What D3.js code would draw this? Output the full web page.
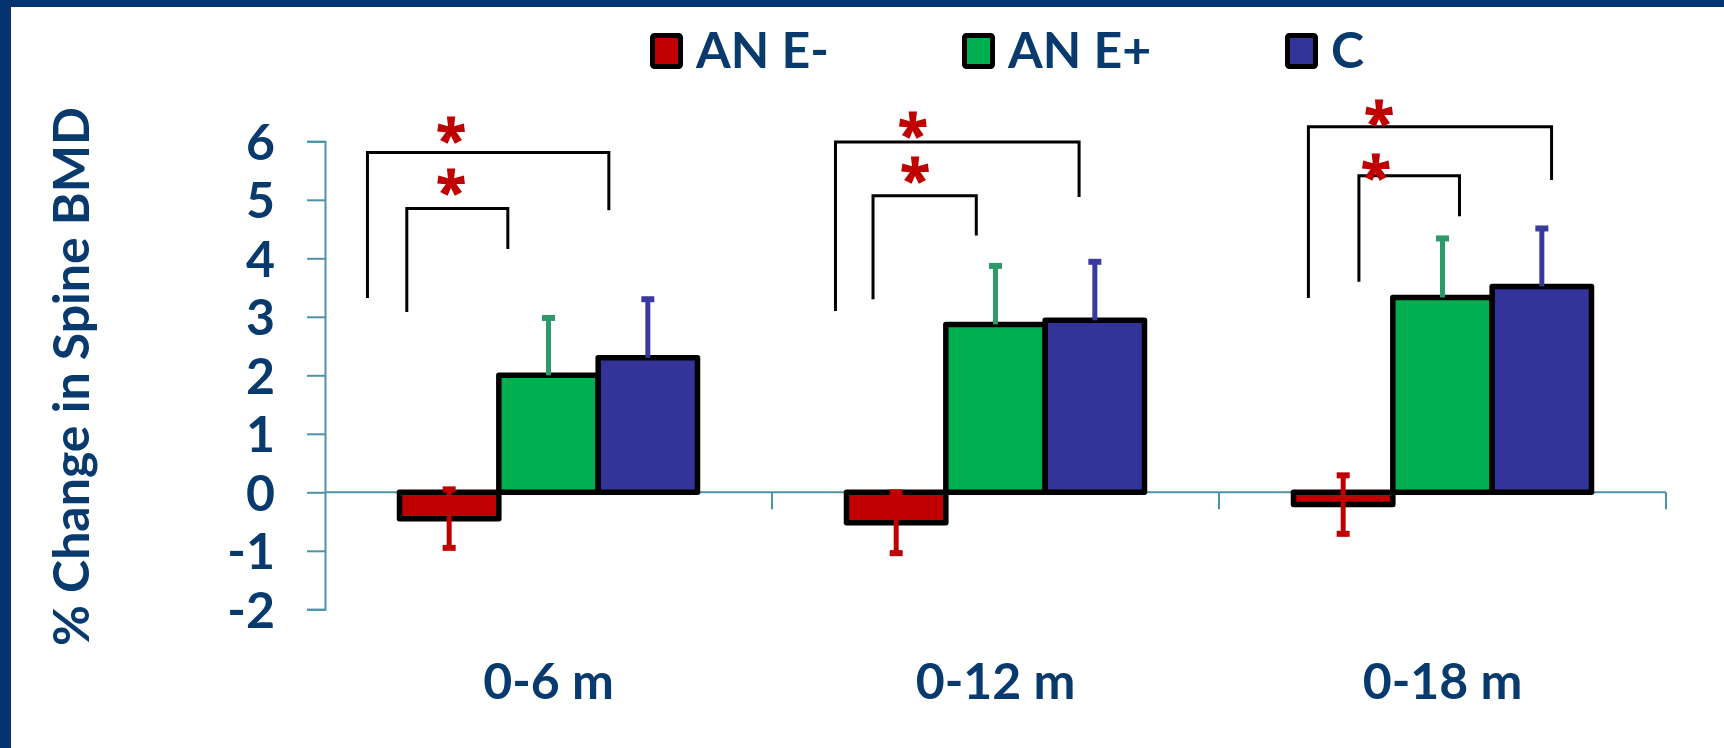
<!DOCTYPE html>
<html>
<head>
<meta charset="utf-8">
<script src="https://cdn.jsdelivr.net/npm/d3@7"></script>
<style>
  html, body { margin: 0; padding: 0; background: #ffffff; }
  svg { display: block; }
</style>
</head>
<body>
<script>
// ---- data ----
const categories = ["0-6 m", "0-12 m", "0-18 m"];
const seriesNames = ["AN E-", "AN E+", "C"];
const valuesANEminus = [-0.45, -0.52, -0.21];
const valuesANEplus = [2.00, 2.87, 3.33];
const valuesC = [2.30, 2.94, 3.52];
const errANEminus = [0.50, 0.52, 0.50];
const errANEplus = [0.98, 1.00, 1.01];
const errC = [1.00, 1.00, 0.99];
const errBothWays = [true, false, false];
const yTicks = [-2, -1, 0, 1, 2, 3, 4, 5, 6];
// significance brackets: category, left/right as fraction of category band,
// top value, bottom of left leg, bottom of right leg
const bracketCat   = ["0-6 m", "0-6 m", "0-12 m", "0-12 m", "0-18 m", "0-18 m"];
const bracketLeft  = [0.095, 0.183, 0.142, 0.226, 0.200, 0.313];
const bracketRight = [0.635, 0.409, 0.687, 0.457, 0.744, 0.538];
const bracketTop   = [5.81, 4.85, 5.99, 5.07, 6.25, 5.41];
const bracketLeftBottom  = [3.32, 3.08, 3.10, 3.30, 3.32, 3.60];
const bracketRightBottom = [4.82, 4.16, 5.05, 4.39, 5.34, 4.72];
// significance stars: position as band fraction and value of its centre
const starX = [0.282, 0.282, 0.315, 0.320, 0.358, 0.351];
const starY = [6.19, 5.30, 6.28, 5.51, 6.48, 5.56];

const fillColors = ["#C00000", "#00B050", "#333399"];
const errColors = ["#C00000", "#2E9A6A", "#3A3A9E"];
const textColor = "#083A6E";
const axisColor = "#4E92A8";

const W = 1724, H = 748;
const svg = d3.select("body").append("svg").attr("width", W).attr("height", H);

// frame
svg.append("rect").attr("x", 0).attr("y", 0).attr("width", W).attr("height", 7).attr("fill", "#04346F");
svg.append("rect").attr("x", 0).attr("y", 0).attr("width", 11).attr("height", H).attr("fill", "#04346F");

const FONT = "Lato, 'Open Sans', sans-serif";

const y = d3.scaleLinear().domain([-2, 6]).range([609.3, 141.3]);
const x0 = d3.scaleBand().domain(categories).range([325, 1666]).padding(0);
const bw = x0.bandwidth();
const gw = 298;
const x1 = d3.scaleBand().domain(seriesNames).range([(bw - gw) / 2, (bw + gw) / 2]).padding(0);

const values = [valuesANEminus, valuesANEplus, valuesC];
const errs = [errANEminus, errANEplus, errC];

// y axis
const yAxis = d3.axisLeft(y).tickValues(yTicks).tickSize(18).tickFormat(d => String(d));
const gy = svg.append("g").attr("transform", "translate(325,0)").call(yAxis);
gy.select(".domain").attr("stroke", axisColor).attr("stroke-width", 2);
gy.selectAll(".tick line").attr("stroke", axisColor).attr("stroke-width", 2);
gy.selectAll(".tick text").attr("fill", textColor).attr("font-family", FONT)
  .attr("font-weight", 700).attr("font-size", 50).attr("x", -50).attr("dy", "0.36em");

// x axis at zero
const y0 = y(0);
svg.append("line").attr("x1", 325).attr("x2", 1666).attr("y1", y0).attr("y2", y0)
  .attr("stroke", axisColor).attr("stroke-width", 2);
svg.selectAll(".catTick").data(categories).enter().append("line")
  .attr("x1", d => x0(d) + bw).attr("x2", d => x0(d) + bw)
  .attr("y1", y0).attr("y2", y0 + 17)
  .attr("stroke", axisColor).attr("stroke-width", 2);
svg.selectAll(".catLabel").data(categories).enter().append("text")
  .attr("x", d => x0(d) + bw / 2).attr("y", 699)
  .attr("text-anchor", "middle").attr("fill", textColor).attr("font-family", FONT)
  .attr("font-weight", 700).attr("font-size", 50).text(d => d);

// y title
svg.append("text").attr("transform", "translate(89,376.5) rotate(-90)")
  .attr("text-anchor", "middle").attr("fill", textColor).attr("font-family", FONT)
  .attr("font-weight", 700).attr("font-size", 50).text("% Change in Spine BMD");

// bars
seriesNames.forEach((s, si) => {
  svg.append("g").selectAll("rect").data(categories).enter().append("rect")
    .attr("x", d => x0(d) + x1(s))
    .attr("width", x1.bandwidth())
    .attr("y", (d, i) => y(Math.max(0, values[si][i])))
    .attr("height", (d, i) => Math.abs(y(values[si][i]) - y0))
    .attr("fill", fillColors[si]).attr("stroke", "#000").attr("stroke-width", 5.5)
    .attr("stroke-linejoin", "round");
});

// error bars
seriesNames.forEach((s, si) => {
  const g = svg.append("g");
  categories.forEach((c, i) => {
    const cx = x0(c) + x1(s) + x1.bandwidth() / 2;
    const v = values[si][i], e = errs[si][i];
    const lo = errBothWays[si] ? v - e : v;
    const hi = v + e;
    g.append("line").attr("x1", cx).attr("x2", cx).attr("y1", y(lo)).attr("y2", y(hi))
      .attr("stroke", errColors[si]).attr("stroke-width", 5);
    const caps = errBothWays[si] ? [lo, hi] : [hi];
    caps.forEach(cv => {
      g.append("line").attr("x1", cx - 6.5).attr("x2", cx + 6.5).attr("y1", y(cv)).attr("y2", y(cv))
        .attr("stroke", errColors[si]).attr("stroke-width", 6);
    });
  });
});

// brackets
const bg = svg.append("g");
bracketCat.forEach((c, i) => {
  const xl = x0(c) + bracketLeft[i] * bw, xr = x0(c) + bracketRight[i] * bw;
  const pts = [[xl, y(bracketLeftBottom[i])], [xl, y(bracketTop[i])], [xr, y(bracketTop[i])], [xr, y(bracketRightBottom[i])]];
  bg.append("path").attr("d", d3.line()(pts)).attr("fill", "none")
    .attr("stroke", "#000").attr("stroke-width", 3);
});
bracketCat.forEach((c, i) => {
  bg.append("text").attr("x", x0(c) + starX[i] * bw).attr("y", y(starY[i]) + 30)
    .attr("text-anchor", "middle").attr("fill", "#C00000").attr("font-family", "'Open Sans', sans-serif")
    .attr("font-weight", 800).attr("font-size", 56).text("*");
});

// legend
const legendX = [650, 962, 1285];
const lg = svg.append("g");
seriesNames.forEach((s, i) => {
  lg.append("rect").attr("x", legendX[i] + 2.5).attr("y", 35.5).attr("width", 28).attr("height", 31)
    .attr("rx", 2).attr("fill", fillColors[i]).attr("stroke", "#000").attr("stroke-width", 5);
  lg.append("text").attr("x", legendX[i] + 46).attr("y", 67.5)
    .attr("fill", textColor).attr("font-family", FONT).attr("font-weight", 700)
    .attr("font-size", 50).text(s);
});
</script>
</body>
</html>
